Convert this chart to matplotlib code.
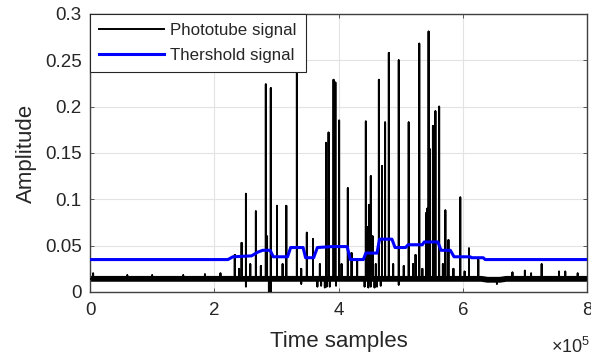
import numpy as np
import matplotlib
matplotlib.use("Agg")
import matplotlib.pyplot as plt
from matplotlib.ticker import MultipleLocator, FuncFormatter

plt.rcParams['font.family'] = ['Liberation Sans', 'DejaVu Sans']
plt.rcParams['mathtext.fontset'] = 'custom'
plt.rcParams['mathtext.rm'] = 'Liberation Sans'

# --- data ---
# phototube baseline level (noise band centre)
base_x = [0, 630000, 640000, 660000, 670000, 800000]
base_y = [0.0142, 0.0142, 0.0132, 0.0132, 0.0142, 0.0142]

# large pulses: sample index, peak amplitude
pulse_x = [233000, 244000, 251000, 267000, 283000, 285000, 291000, 301000,
           316000, 333000, 349000, 359000, 380000, 384000, 392000, 395000,
           401000, 415000, 421000, 444000, 446000, 449000, 452000, 455000,
           465000, 470000, 475000, 481000, 497000, 513000, 524000, 530000,
           541000, 543000, 545000, 547000, 552000, 556000, 562000, 572000,
           577000, 596000, 610000, 625000]
pulse_y = [0.040, 0.053, 0.106, 0.087, 0.224, 0.060, 0.220, 0.093,
           0.093, 0.240, 0.064, 0.057, 0.161, 0.172, 0.229, 0.226,
           0.185, 0.112, 0.042, 0.184, 0.070, 0.094, 0.125, 0.060,
           0.229, 0.136, 0.183, 0.258, 0.250, 0.183, 0.040, 0.268,
           0.085, 0.090, 0.281, 0.154, 0.179, 0.195, 0.200, 0.088,
           0.056, 0.102, 0.047, 0.035]

# small noise bumps on the baseline
bump_x = [5000, 60000, 100000, 150000, 185000, 210000, 240000, 258000,
          275000, 310000, 340000, 370000, 405000, 430000, 460000, 488000,
          505000, 520000, 535000, 568000, 585000, 603000, 680000, 700000,
          710000, 727000, 755000, 765000, 785000]
bump_y = [0.020, 0.018, 0.018, 0.018, 0.019, 0.020, 0.025, 0.030,
          0.028, 0.030, 0.025, 0.030, 0.030, 0.035, 0.030, 0.030,
          0.028, 0.030, 0.025, 0.030, 0.025, 0.022, 0.021, 0.023,
          0.020, 0.030, 0.022, 0.022, 0.020]

# downward dips
dip_x = [251000, 288000, 291000, 340000, 366000, 372000, 378000, 381000,
         386000, 396000, 442000, 448000, 452000, 458000, 462000, 468000,
         497000, 655000]
dip_y = [0.006, 0.000, 0.000, 0.009, 0.006, 0.007, 0.005, 0.006,
         0.006, 0.007, 0.006, 0.005, 0.006, 0.005, 0.006, 0.007,
         0.008, 0.009]

# threshold signal breakpoints
thr_x = [0, 222000, 230000, 260000, 270000, 278000, 290000, 295000,
         318000, 323000, 343000, 347000, 360000, 366000, 390000, 414000,
         419000, 440000, 444000, 462000, 466000, 486000, 491000, 508000,
         512000, 535000, 538000, 560000, 565000, 580000, 586000, 612000,
         614000, 633000, 636000, 800000]
thr_y = [0.035, 0.035, 0.038, 0.039, 0.043, 0.045, 0.045, 0.038,
         0.038, 0.048, 0.048, 0.037, 0.037, 0.048, 0.049, 0.049,
         0.035, 0.035, 0.042, 0.042, 0.057, 0.057, 0.048, 0.048,
         0.051, 0.051, 0.054, 0.054, 0.045, 0.045, 0.038, 0.038,
         0.037, 0.037, 0.035, 0.035]

# --- build the pulse trace: base -> peak -> base for each event ---
ev_x = np.array(pulse_x + bump_x + dip_x, dtype=float)
ev_y = np.array(pulse_y + bump_y + dip_y)
order = np.argsort(ev_x, kind="stable")
ev_x, ev_y = ev_x[order], ev_y[order]
ev_b = np.interp(ev_x, base_x, base_y)
tr_x = np.concatenate([[0], np.repeat(ev_x, 3), [800000]])
tr_y = np.concatenate([[base_y[0]], np.column_stack([ev_b, ev_y, ev_b]).ravel(), [base_y[-1]]])

txt = "#262626"
fig = plt.figure(figsize=(5.91, 3.6), dpi=100)
ax = fig.add_axes([90 / 591, 1 - 292 / 360, 497 / 591, 278 / 360])

ax.plot(base_x, base_y, color="black", linewidth=4.2, solid_capstyle="butt", zorder=2)
ax.plot(tr_x, tr_y, color="black", linewidth=1.4, label="Phototube signal", zorder=3)
ax.plot(thr_x, thr_y, color="blue", linewidth=2.2, label="Thershold signal", zorder=4)

ax.set_xlim(0, 800000)
ax.set_ylim(0, 0.3)
ax.xaxis.set_major_locator(MultipleLocator(200000))
ax.yaxis.set_major_locator(MultipleLocator(0.05))
ax.yaxis.set_major_formatter(FuncFormatter(lambda v, p: "%g" % round(v, 3)))
ax.xaxis.set_major_formatter(FuncFormatter(lambda v, p: "%g" % round(v / 1e5, 3)))

ax.grid(True, color="#e3e3e3", linewidth=0.8)
ax.set_axisbelow(True)
ax.tick_params(direction="in", top=True, right=True, length=3, width=0.6,
               colors="#404040", labelcolor=txt, labelsize=13.5, pad=6)
ax.tick_params(axis="x", pad=7)
for s in ax.spines.values():
    s.set_color("#404040")
    s.set_linewidth(1.0)

ax.set_xlabel("Time samples", fontsize=16, color=txt, labelpad=9)
ax.set_ylabel("Amplitude", fontsize=16, color=txt, labelpad=6)
# axis exponent, placed like MATLAB's
fig.text(590 / 591, 1 - 347 / 360, r"$\times10^{5}$", ha="right", va="center",
         fontsize=13, color=txt)

leg = ax.legend(loc="upper left", borderaxespad=0, fontsize=12.2, handlelength=3.8,
                handletextpad=0.4, borderpad=0.55, labelspacing=0.55,
                fancybox=False, framealpha=1, edgecolor=txt)
leg.get_frame().set_linewidth(0.8)
for t in leg.get_texts():
    t.set_color(txt)

fig.savefig("out.png", dpi=100)
